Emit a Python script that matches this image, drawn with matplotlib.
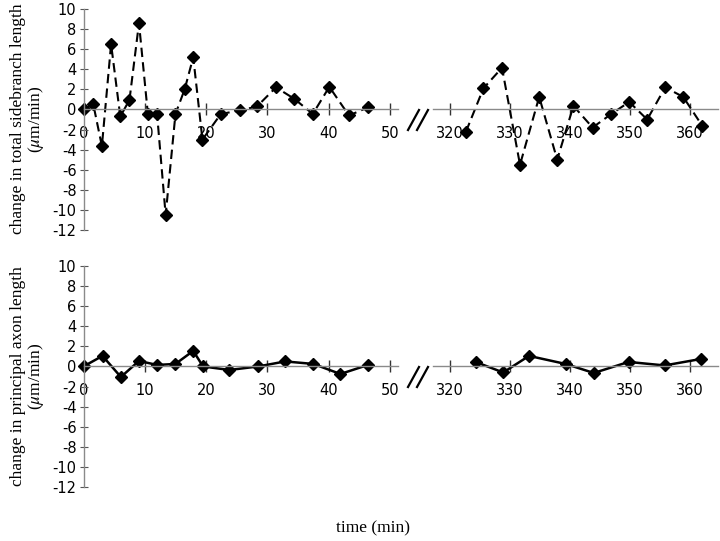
import numpy as np
import matplotlib
matplotlib.use('Agg')
import matplotlib.pyplot as plt
from matplotlib.lines import Line2D

plt.rcParams['axes.unicode_minus'] = False
plt.rcParams['mathtext.fontset'] = 'stix'

# Sidebranch length change, early and late time windows.
sb_t_early = [0, 1.6, 3.0, 4.5, 6.0, 7.5, 9.05, 10.5, 12.0, 13.4, 15.0, 16.5, 17.9, 19.4,
              22.4, 25.5, 28.3, 31.4, 34.4, 37.4, 40.1, 43.3, 46.4]
sb_v_early = [0, 0.5, -3.65, 6.5, -0.7, 0.95, 8.6, -0.45, -0.45, -10.5, -0.45, 2.0, 5.2, -3.0,
              -0.45, -0.1, 0.3, 2.2, 1.05, -0.45, 2.25, -0.6, 0.2]
sb_t_late = [322.7, 325.6, 328.7, 331.7, 334.9, 337.9, 340.6, 343.8, 346.8, 349.9, 352.9,
             355.9, 358.9, 362.1]
sb_v_late = [-2.2, 2.1, 4.15, -5.5, 1.25, -5.0, 0.35, -1.8, -0.5, 0.75, -1.0, 2.2, 1.25, -1.65]

# Principal axon length change.
ax_t_early = [0, 3.1, 6.1, 9.05, 12.0, 15.0, 17.9, 19.5, 23.8, 28.5, 32.9, 37.5, 41.9, 46.4]
ax_v_early = [0, 1.05, -1.05, 0.55, 0.15, 0.25, 1.55, 0, -0.35, 0.0, 0.5, 0.25, -0.75, 0.15]
ax_t_late = [324.3, 328.9, 333.2, 339.3, 344.0, 349.8, 355.8, 361.9]
ax_v_late = [0.45, -0.6, 1.05, 0.25, -0.65, 0.45, 0.1, 0.75]

y_ticks = list(range(-12, 11, 2))
early_ticks = [0, 10, 20, 30, 40, 50]
late_ticks = [320, 330, 340, 350, 360]

W, H = 720, 541
fig = plt.figure(figsize=(7.2, 5.41), dpi=100)


def px_rect(x0, x1, y_top, y_bot):
    return [x0 / W, 1 - y_bot / H, (x1 - x0) / W, (y_bot - y_top) / H]


grey = '#8a8a8a'


def style_axis(ax, xlim, xticks, show_y):
    ax.set_xlim(*xlim)
    ax.set_ylim(-12, 10)
    ax.patch.set_visible(False)
    for s in ['top', 'right']:
        ax.spines[s].set_visible(False)
    ax.spines['bottom'].set_position(('data', 0))
    ax.spines['bottom'].set_color(grey)
    ax.spines['bottom'].set_linewidth(1.0)
    ax.set_xticks(xticks)
    ax.tick_params(axis='x', direction='inout', length=8, width=1.0, color='#333333',
                   labelsize=10.5, pad=8)
    if show_y:
        ax.spines['left'].set_color(grey)
        ax.spines['left'].set_linewidth(1.0)
        ax.set_yticks(y_ticks)
        ax.tick_params(axis='y', direction='inout', length=6, width=0.8, color='#555555',
                       labelsize=10.5, pad=2)
    else:
        ax.spines['left'].set_visible(False)
        ax.set_yticks([])
    for lab in ax.get_xticklabels() + ax.get_yticklabels():
        lab.set_family('DejaVu Sans')


rows = [
    (9, 230, sb_t_early, sb_v_early, sb_t_late, sb_v_late, '--'),
    (266, 487, ax_t_early, ax_v_early, ax_t_late, ax_v_late, '-'),
]

for y_top, y_bot, te, ve, tl, vl, ls in rows:
    a1 = fig.add_axes(px_rect(83.5, 398, y_top, y_bot))
    a2 = fig.add_axes(px_rect(433, 718, y_top, y_bot))
    style_axis(a1, (0, 51.3), early_ticks, True)
    style_axis(a2, (317.2, 364.7), late_ticks, False)
    for a, t, v in [(a1, te, ve), (a2, tl, vl)]:
        if ls == '--':
            a.plot(t, v, color='black', linestyle='--', dashes=(4.5, 2.5), linewidth=1.5,
                   marker='D', markersize=6.5, clip_on=False)
        else:
            a.plot(t, v, color='black', linestyle='-', linewidth=1.8,
                   marker='D', markersize=6.5, clip_on=False)
    # axis break marks
    y0 = (y_top + y_bot) / 2 + 0.5
    for dx in (0, 9):
        fig.add_artist(Line2D([(408 + dx) / W, (419 + dx) / W],
                              [1 - (y0 + 10) / H, 1 - (y0 - 10) / H],
                              color='black', linewidth=1.6))

serif = 'Liberation Serif'
fig.text(18 / W, 1 - 119 / H, 'change in total sidebranch length', rotation=90,
         ha='center', va='center', family=serif, fontsize=12.5)
fig.text(36 / W, 1 - 119 / H, r'($\mu$m/min)', rotation=90,
         ha='center', va='center', family=serif, fontsize=12.5)
fig.text(18 / W, 1 - 376 / H, 'change in principal axon length', rotation=90,
         ha='center', va='center', family=serif, fontsize=12.5)
fig.text(36 / W, 1 - 376 / H, r'($\mu$m/min)', rotation=90,
         ha='center', va='center', family=serif, fontsize=12.5)
fig.text(373 / W, 1 - 528 / H, 'time (min)', ha='center', va='center',
         family=serif, fontsize=12.5)

fig.savefig('out.png', dpi=100)
